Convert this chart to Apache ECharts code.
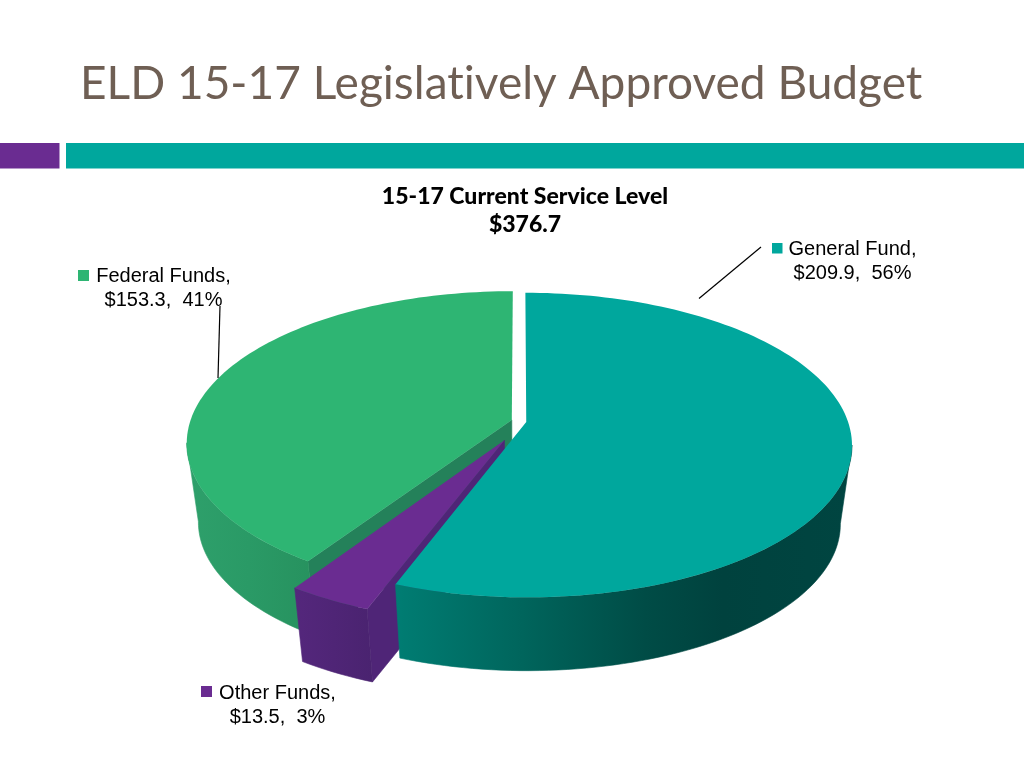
<!DOCTYPE html>
<html>
<head>
<meta charset="utf-8">
<style>html,body{margin:0;padding:0;background:#fff}#c{width:1024px;height:768px}</style>
<script src="https://cdn.jsdelivr.net/npm/echarts@6/dist/echarts.min.js"></script>
</head>
<body>
<div id="c"></div>
<script>
// ---- data ----
var mainTitle = 'ELD 15-17 Legislatively Approved Budget';
var chartTitle = '15-17 Current Service Level';
var chartTotal = '$376.7';
var categories = ['General Fund', 'Federal Funds', 'Other Funds'];
var values = [209.9, 153.3, 13.5];
var valueLabels = ['$209.9', '$153.3', '$13.5'];
var percentLabels = ['56%', '41%', '3%'];

// ---- style & projection settings ----
var TEAL = '#00a79d', GREEN = '#2eb573', PURPLE = '#6a2c91';
var topColors = [TEAL, GREEN, PURPLE];
var explode = [[0.021, 0.007], [-0.024, -0.007], [-0.046, 0.127]];
var clockwiseOrder = [0, 2, 1];
var drawOrder = [1, 2, 0];
var P = { cx: 519.5, cy: 421, A: 321.5, B: 148.5, p: 0.151, k: 0.965, dy: 79.5 };
var labelPos = [
  { x: 852.5, y: 249.5, sx: 772, sy: 243, size: 10.5, line: [[699, 298.5], [761, 247]] },
  { x: 163.5, y: 276, sx: 78, sy: 270, size: 11, line: [[218, 378], [220, 306]] },
  { x: 277.5, y: 693, sx: 201, sy: 686, size: 11, line: null }
];
function stops(list) {
  return list.map(function (c, i) { return { offset: i / (list.length - 1), color: c }; });
}
var wallFill = [
  { type: 'linear', global: true, x: 395, y: 0, x2: 850, y2: 0,
    colorStops: [{offset:0,color:'#007d73'},{offset:0.28,color:'#00655c'},{offset:0.55,color:'#004c46'},{offset:0.72,color:'#00423e'},{offset:1,color:'#004541'}] },
  { type: 'linear', global: true, x: 187, y: 0, x2: 310, y2: 0,
    colorStops: stops(['#2ea06b', '#2a9a66', '#27925f']) },
  { type: 'linear', global: true, x: 295, y: 0, x2: 372, y2: 0,
    colorStops: stops(['#54277c', '#4a2370']) }
];
var sideFill = ['#00776e', '#24815a', '#4f2577'];

// ---- geometry from values ----
var total = values.reduce(function (a, b) { return a + b; }, 0);
var sweep = values.map(function (v) { return v / total * 360; });
var startAngles = [];
clockwiseOrder.reduce(function (a, i) { startAngles[i] = a; return a + sweep[i]; }, 0);

function project(i, deg, r, bottom) {
  var t = deg * Math.PI / 180;
  var u = explode[i][0] + r * Math.sin(t);
  var v = explode[i][1] - r * Math.cos(t);
  var s = 1 / (1 - P.p * v);
  var x = P.cx + P.A * u * s;
  var y = P.cy + P.B * v * s;
  if (bottom) { x = P.cx + (x - P.cx) * P.k; y = P.cy + (y - P.cy) * P.k + P.dy; }
  return [x, y];
}
function arc(i, a0, a1, bottom) {
  var pts = [], n = Math.max(2, Math.ceil((a1 - a0) / 1.5));
  for (var j = 0; j <= n; j++) pts.push(project(i, a0 + (a1 - a0) * j / n, 1, bottom));
  return pts;
}
var silR = Math.acos(-P.p) * 180 / Math.PI, silL = 360 - silR;

function renderSlice(params, api) {
  var i = api.value(0);
  var a0 = startAngles[i], a1 = a0 + sweep[i];
  var kids = [];
  // cut face at the start angle, when it looks towards the viewer
  if (Math.sin(a0 * Math.PI / 180) < -0.01) {
    kids.push({ type: 'polygon', silent: true,
      shape: { points: [project(i, a0, 0, false), project(i, a0, 1, false), project(i, a0, 1, true), project(i, a0, 0, true)] },
      style: { fill: sideFill[i], stroke: sideFill[i], lineWidth: 0.6 } });
  }
  // outer wall
  var w0 = Math.max(a0, silR), w1 = Math.min(a1, silL);
  if (w1 > w0) {
    kids.push({ type: 'polygon', silent: true,
      shape: { points: arc(i, w0, w1, false).concat(arc(i, w0, w1, true).reverse()) },
      style: { fill: wallFill[i], stroke: wallFill[i], lineWidth: 0.6 } });
  }
  // top face
  kids.push({ type: 'polygon', silent: true,
    shape: { points: [project(i, a0, 0, false)].concat(arc(i, a0, a1, false)) },
    style: { fill: topColors[i] } });
  // label
  var L = labelPos[i];
  if (L.line) {
    kids.push({ type: 'line', silent: true,
      shape: { x1: L.line[0][0], y1: L.line[0][1], x2: L.line[1][0], y2: L.line[1][1] },
      style: { stroke: '#000', lineWidth: 1.2 } });
  }
  kids.push({ type: 'rect', silent: true, shape: { x: L.sx, y: L.sy, width: L.size, height: L.size }, style: { fill: topColors[i] } });
  kids.push({ type: 'text', silent: true, style: { text: categories[i] + ',', x: L.x, y: L.y, align: 'center', verticalAlign: 'middle', fill: '#000', font: '20px "Liberation Sans", Arial, sans-serif' } });
  kids.push({ type: 'text', silent: true, style: { text: valueLabels[i] + ',  ' + percentLabels[i], x: L.x, y: L.y + 24, align: 'center', verticalAlign: 'middle', fill: '#000', font: '20px "Liberation Sans", Arial, sans-serif' } });
  return { type: 'group', children: kids };
}

var chart = echarts.init(document.getElementById('c'), null, { renderer: 'canvas', width: 1024, height: 768 });
var option = {
  animation: false,
  backgroundColor: '#ffffff',
  title: [
    { text: mainTitle, left: 75, top: 56, textStyle: { fontFamily: 'Lato', fontSize: 46, fontWeight: 'normal', color: '#6f5f54' } },
    { text: chartTitle + '\n' + chartTotal, left: 520, top: 178, textAlign: 'center',
      textStyle: { fontFamily: 'Lato', fontSize: 23, fontWeight: 900, color: '#000', lineHeight: 28, align: 'center' } }
  ],
  graphic: [
    { type: 'rect', shape: { x: 0, y: 143, width: 59.5, height: 25.5 }, style: { fill: PURPLE } },
    { type: 'rect', shape: { x: 66, y: 143, width: 958, height: 25.5 }, style: { fill: TEAL } }
  ],
  series: [{
    type: 'custom',
    coordinateSystem: 'none',
    silent: true,
    renderItem: renderSlice,
    encode: { value: 0 },
    data: drawOrder.map(function (i) { return [i, values[i]]; })
  }]
};
chart.setOption(option);
// second paint with a tiny letter spacing, which keeps "ti" as two separate letters
chart.getZr().flush();
var cv = document.querySelector('#c canvas');
if (cv) { cv.getContext('2d').letterSpacing = '0.01px'; }
chart.setOption(option, true);
chart.getZr().flush();
</script>
</body>
</html>
